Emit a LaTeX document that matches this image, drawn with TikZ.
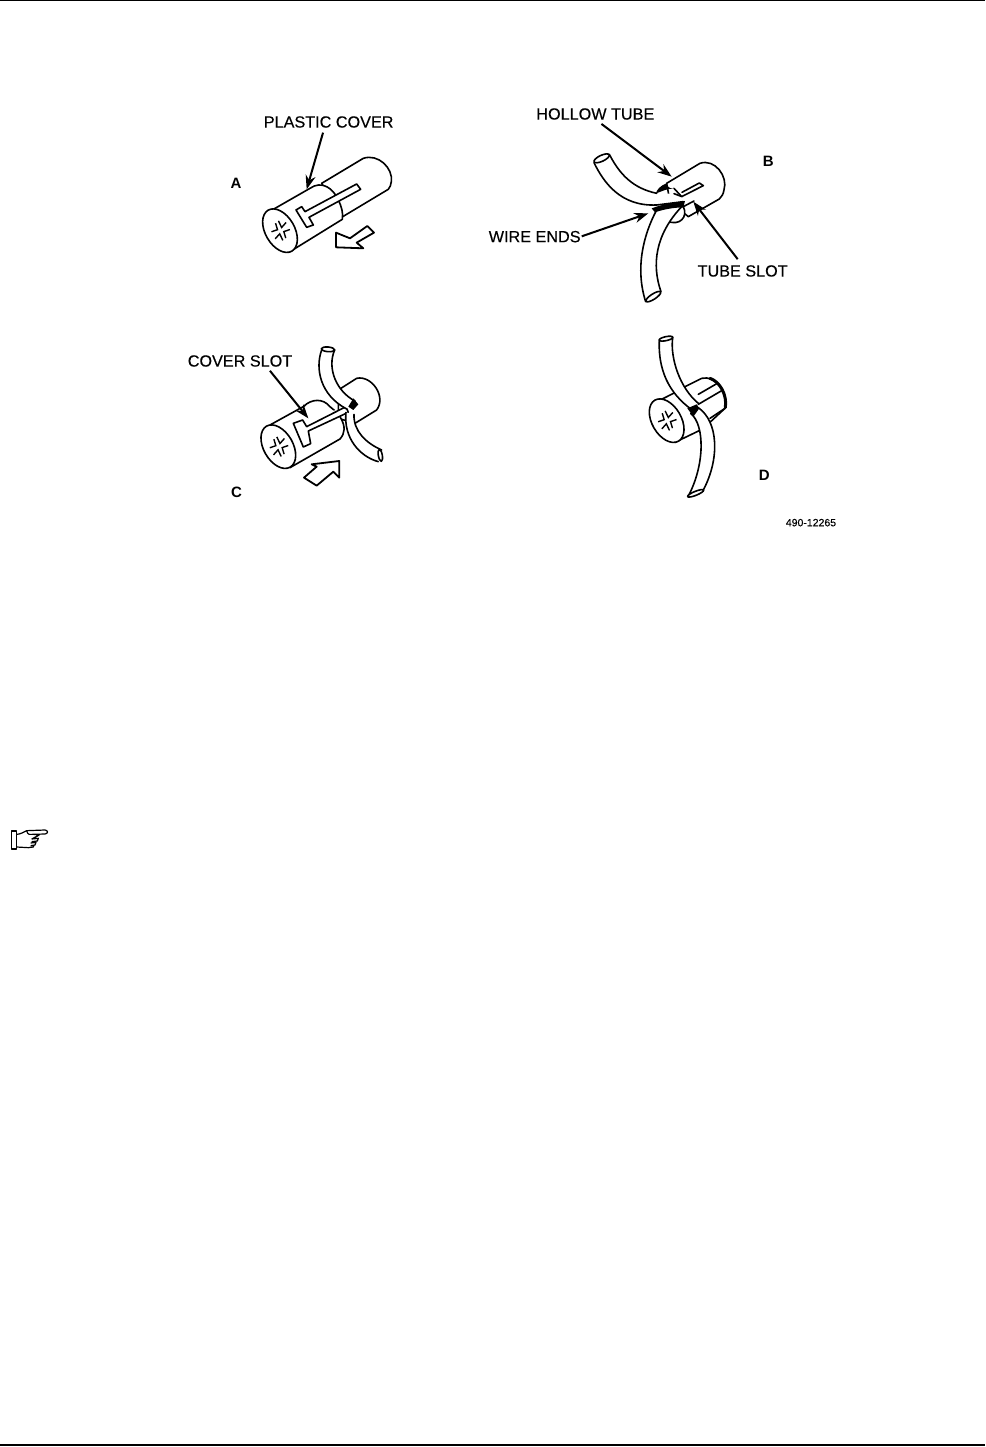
\documentclass[tikz,border=0pt]{standalone}
\usepackage{fontspec}
\setmainfont{Liberation Sans}
\newfontfamily\lblfont[FakeBold=0.25]{Liberation Sans}
\usetikzlibrary{arrows.meta}
\tikzset{
  ln/.style={line width=1.6pt,line join=round,line cap=round},
  wh/.style={ln,fill=white},
  lbl/.style={font=\lblfont\fontsize{16.2}{17}\selectfont,inner sep=0pt,text=black},
  big/.style={font=\fontsize{15}{15}\selectfont\bfseries,inner sep=0pt},
  ptr/.style={line width=2pt,-{Stealth[length=14pt,width=10pt]},shorten <=1pt},
  zoomA/.style={shift={(#1)},x=0.3333pt,y=-0.3333pt},
  crs/.pic={
    \draw[line width=1.4pt]
      (-26,-10)--(-7,-7)--(-3,-27) (26,-14)--(7,-7)--(8,-29)
      (-26,14)--(-7,7)--(-8,29) (26,10)--(7,7)--(3,27);
  }
}
\begin{document}
\begin{tikzpicture}[x=1pt,y=-1pt]
\useasboundingbox (0,0) rectangle (985,1447);
\fill[white] (0,0) rectangle (985,1447);
\coordinate (tl) at (0,0.8); \coordinate (tr) at (985,0.8);
\draw[line width=1.2pt] (tl)--(tr);
\coordinate (bl) at (0,1445); \coordinate (br) at (985,1445);
\draw[line width=1.2pt] (bl)--(br);

% ---------- A
\begin{scope}[zoomA={210pt,-100pt}]
  \draw[wh] (335,250)--(460,175) .. controls (505,160) and (550,205) .. (544,245) .. controls (543,255) and (540,262) .. (535,268)--(395,352)--cycle;
  \draw[wh] (190,328)--(300,265) .. controls (335,240) and (370,265) .. (385,300) .. controls (395,320) and (400,340) .. (397,358)--(240,455)--cycle;
  \draw[wh] (258,330)--(275,320)--(285,335)--(440,252)--(452,268)--(297,352)--(310,375)--(290,382)--cycle;
  \draw[wh] (210,392) ellipse [x radius=44,y radius=71,rotate=30];
  \path (212,392) pic[rotate=28] {crs};
  \draw[wh,line width=1.8pt] (378,398)--(420,415)--(472,378)--(492,398)--(440,428)--(460,445)--(378,442)--cycle;
  \node[lbl] (pc) at (356,66) {PLASTIC COVER};
  \coordinate (pct) at (290,268);
  \coordinate (pcs) at (340,95);
  \draw[ptr] (pcs) -- (pct);
  \node[big] (la) at (78,250) {A};
\end{scope}

% ---------- B
\begin{scope}[zoomA={470pt,-95pt}]
  \draw[wh] (590,265)--(690,205) .. controls (735,190) and (775,245) .. (762,285) .. controls (760,298) and (755,305) .. (748,312)--(655,365)--(600,320)--cycle;
  \draw[wh] (640,335) .. controls (655,365) and (630,395) .. (590,378)--(560,345)--(620,320)--cycle;
  \draw[ln] (640,335)--(672,318);
  \fill (590,265) .. controls (570,272) and (560,285) .. (558,295) .. controls (575,290) and (595,278) .. (612,282) .. controls (595,280) and (590,272) .. cycle;
  \draw[wh] (612,280)--(635,305)--(700,272)--(688,264)--(636,292);
  \fill[white] (372,203) .. controls (400,260) and (450,335) .. (560,330)--(640,320)--(636,305)--(610,296)--(560,295) .. controls (490,280) and (450,240) .. (418,178)--cycle;
  \draw[ln] (372,203) .. controls (400,260) and (450,335) .. (560,330)--(640,320);
  \draw[ln] (560,295) .. controls (490,280) and (450,240) .. (418,178);
  \draw[ln] (612,296)--(636,305);
  \draw[ln,fill=white] (395,190) ellipse [x radius=25,y radius=9,rotate=25];
  \fill[white] (527,620) .. controls (495,520) and (520,420) .. (560,345)--(635,335) .. controls (555,420) and (545,510) .. (573,590)--cycle;
  \draw[ln] (527,620) .. controls (495,520) and (520,420) .. (560,345);
  \draw[ln] (635,335) .. controls (555,420) and (545,510) .. (573,590);
  \draw[ln,fill=white] (550,605) ellipse [x radius=26,y radius=8,rotate=33];
  \fill (545,340) .. controls (585,325) and (620,322) .. (645,318)--(640,338) .. controls (620,336) and (580,343) .. (555,352)--cycle;
  \node[lbl] (ht) at (376,57) {HOLLOW TUBE};
  \node[lbl] (we) at (194,425) {WIRE ENDS};
  \node[lbl] (ts) at (818,528) {TUBE SLOT};
  \coordinate (htt) at (605,245);
  \coordinate (wet) at (535,355);
  \coordinate (tst) at (670,320);
  \coordinate (hts) at (392,85);
  \coordinate (tss) at (805,495);
  \draw[ptr] (hts) -- (htt);
  \draw[ptr] (we.east) -- (wet);
  \draw[ptr] (tss) -- (tst);
  \node[big] (lb) at (895,200) {B};
\end{scope}

% ---------- C
\begin{scope}[zoomA={180pt,-335pt}]
  \draw[wh] (475,165)--(530,130) .. controls (575,120) and (620,185) .. (590,225)--(525,265)--(475,250)--cycle;
  \draw[wh] (370,215) .. controls (395,190) and (430,190) .. (450,215)--(480,240)--(440,260)--(385,260)--cycle;
  \fill[white] (270,270)--(375,212)--(400,240)--(470,225)--(480,245) .. controls (498,275) and (495,295) .. (480,312)--(330,398)--cycle;
  \draw[ln] (270,270)--(375,212);
  \draw[ln] (480,245) .. controls (498,275) and (495,295) .. (480,312)--(330,398);
  \draw[wh] (340,265)--(368,255)--(380,275)--(498,215)--(505,232)--(385,288)--(392,326)--(370,336)--cycle;
  \draw[wh] (295,335) ellipse [x radius=44,y radius=71,rotate=30];
  \path (297,335) pic[rotate=28] {crs};
  \fill[white] (425,45) .. controls (405,100) and (420,180) .. (500,222)--(525,198) .. controls (470,170) and (440,100) .. (464,45)--cycle;
  \draw[ln] (425,45) .. controls (405,100) and (420,180) .. (500,222);
  \draw[ln] (525,198) .. controls (470,170) and (440,100) .. (464,45);
  \draw[ln,fill=white] (444,43) ellipse [x radius=20,y radius=7,rotate=-5];
  \fill[white] (498,232) .. controls (490,310) and (540,365) .. (595,380)--(605,345) .. controls (560,325) and (520,290) .. (522,238)--cycle;
  \draw[ln] (498,232) .. controls (490,310) and (540,365) .. (595,380);
  \draw[ln] (605,345) .. controls (560,325) and (520,290) .. (522,238);
  \draw[ln,fill=white] (601,361) ellipse [x radius=6,y radius=18,rotate=10];
  \fill (520,190)--(535,208)--(520,225)--(505,215)--cycle;
  \draw[wh,line width=1.8pt] (372,428)--(410,395)--(395,388)--(478,378)--(478,428)--(460,410)--(410,452)--cycle;
  \node[lbl] (cs) at (180,78) {COVER SLOT};
  \coordinate (cst) at (385,250);
  \coordinate (css) at (268,105);
  \draw[ptr] (css) -- (cst);
  \node[big] (lc) at (170,473) {C};
\end{scope}

% ---------- D
\begin{scope}[zoomA={630pt,-325pt}]
  \draw[wh] (165,185)--(215,160) .. controls (255,150) and (295,200) .. (285,250)--(215,315)--(165,300)--cycle;
  \draw[line width=3pt,line cap=round] (240,160) .. controls (270,170) and (292,210) .. (286,248);
  \draw[ln] (262,175)--(205,208) (275,197)--(205,238);
  \draw[ln] (285,250)--(240,280);
  \fill[white] (85,228)--(160,190)--(200,250)--(218,312)--(135,352)--cycle;
  \draw[ln] (85,228)--(160,190);
  \draw[ln] (218,312)--(135,352);
  \draw[wh] (110,287) ellipse [x radius=44,y radius=71,rotate=30];
  \path (112,287) pic[rotate=28] {crs};
  \fill[white] (88,45) .. controls (85,110) and (100,190) .. (180,250)--(205,235) .. controls (150,190) and (120,100) .. (128,38)--cycle;
  \draw[ln] (88,45) .. controls (85,110) and (100,190) .. (180,250);
  \draw[ln] (205,235) .. controls (150,190) and (120,100) .. (128,38);
  \draw[ln,fill=white] (108,41) ellipse [x radius=21,y radius=6,rotate=12];
  \fill[white] (182,265) .. controls (225,300) and (225,420) .. (174,515)--(220,495) .. controls (270,400) and (265,290) .. (205,248)--cycle;
  \draw[ln] (182,265) .. controls (225,300) and (225,420) .. (174,515);
  \draw[ln] (220,495) .. controls (270,400) and (265,290) .. (205,248);
  \draw[ln,fill=white] (197,505) ellipse [x radius=26,y radius=6,rotate=22];
  \fill (172,250)--(200,238)--(208,250)--(190,275)--cycle;
  \node[big] (ld) at (403,450) {D};
  \node[font=\lblfont\fontsize{10.5}{11}\selectfont,inner sep=0pt] (fig) at (543,593) {490-12265};
\end{scope}

% ---------- hand
\begin{scope}[zoomA={0pt,-815pt}]
  \draw[line width=1.2pt,line join=round] (35,48) rectangle (50,102);
  \draw[line width=1.2pt,line join=round,fill=white]
    (50,58) .. controls (60,58) and (70,52) .. (80,47)--(135,45) .. controls (145,46) and (145,56) .. (135,57)--(100,58)
    (100,58)--(118,60) (95,72)--(115,70)--(112,78)--(95,80) (92,84)--(108,82)--(105,90)--(92,92) (50,96)--(85,98)--(100,96)--(102,90)
    (80,47) .. controls (82,60) and (92,60) .. (100,58) (95,72)--(118,60);
\end{scope}
\end{tikzpicture}
\end{document}
